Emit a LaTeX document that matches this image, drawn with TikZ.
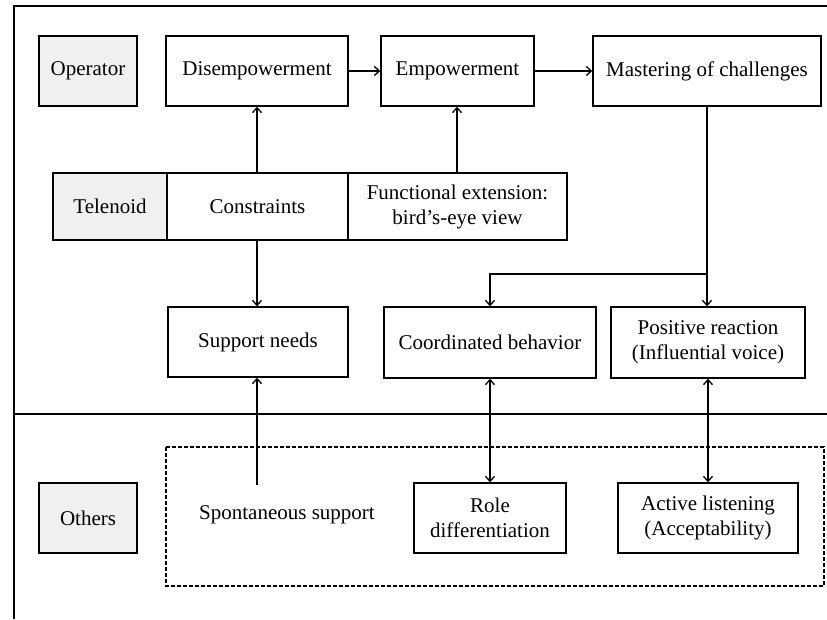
\documentclass[tikz,border=0pt]{standalone}
\usepackage{fontspec}
\setmainfont{Liberation Serif}
\usetikzlibrary{arrows.meta,calc}
\begin{document}
\begin{tikzpicture}[x=1pt,y=-1pt,
  line width=1.4pt,
  >={Straight Barb[length=5pt,width=9pt]},
  box/.style={draw, rectangle, inner sep=0pt, align=center, font=\fontsize{21}{25}\selectfont},
  graybox/.style={box, fill=black!6},
  plain/.style={inner sep=0pt, align=center, font=\fontsize{21}{25}\selectfont},
  conn/.style={->, line width=1.3pt}
]
\useasboundingbox (0,0) rectangle (827,619);
% frame and divider
\draw[line width=1.3pt] (14,619) -- (14,6) -- (827,6);
\draw[line width=1.3pt] (14,414) -- (827,414);
\draw[line width=1.1pt, dash pattern=on 4pt off 2pt] (166,447) rectangle (824,586);
% nodes
\node[graybox, minimum width=98, minimum height=70] (op) at (88,71) {Operator};
\node[box, minimum width=182, minimum height=70] (dis) at (257,71) {Disempowerment};
\node[box, minimum width=153, minimum height=70] (emp) at (457.5,71) {Empowerment};
\node[box, minimum width=228, minimum height=70] (mas) at (707,71) {Mastering of challenges};
\node[graybox, minimum width=114, minimum height=67] (tel) at (110,206.5) {Telenoid};
\node[box, minimum width=181, minimum height=67] (con) at (257.5,206.5) {Constraints};
\node[box, minimum width=219, minimum height=67] (fun) at (457.5,206.5) {Functional extension:\\bird’s-eye view};
\node[box, minimum width=180, minimum height=70] (sup) at (258,342) {Support needs};
\node[box, minimum width=212, minimum height=71] (coo) at (490,342.5) {Coordinated behavior};
\node[box, minimum width=194, minimum height=71] (pos) at (708,342.5) {Positive reaction\\(Influential voice)};
\node[graybox, minimum width=98, minimum height=70] (oth) at (88,518) {Others};
\node[plain] (spo) at (287,515) {Spontaneous support};
\node[box, minimum width=152, minimum height=70] (rol) at (490,518) {Role\\differentiation};
\node[box, minimum width=180, minimum height=70] (act) at (708,518) {Active listening\\(Acceptability)};
% connectors
\draw[conn] (dis) -- (emp);
\draw[conn] (emp) -- (mas);
\draw[conn] (257,173) coordinate (cn) -- (cn |- dis.south);
\draw[conn] (457,173) coordinate (fn) -- (fn |- emp.south);
\draw[conn] (cn |- con.south) -- (cn |- sup.north);
\draw[conn] (mas.south) -- (mas.south |- pos.north);
\coordinate (br) at (707,274);
\draw[conn] (br) -| (coo.north);
\coordinate (sp) at (257,485);
\draw[conn] (sp) -- (sp |- sup.south);
\draw[<->, line width=1.3pt] (coo.south) -- (rol.north);
\draw[<->, line width=1.3pt] (pos.south) -- (act.north);
\end{tikzpicture}
\end{document}
